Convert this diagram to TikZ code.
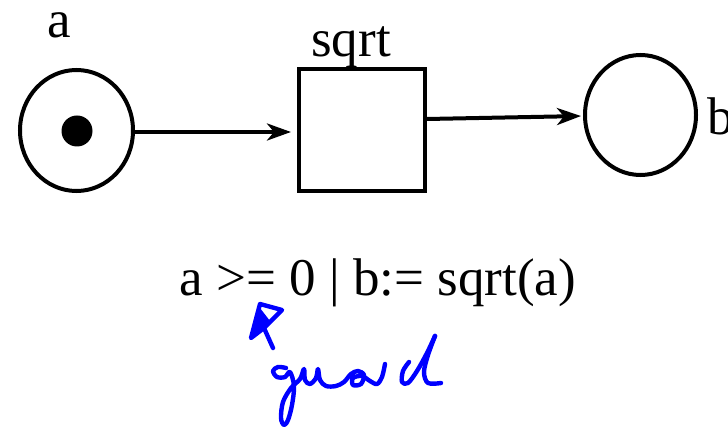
\documentclass[tikz,border=0pt]{standalone}
\usepackage{fontspec}
\setmainfont{Liberation Serif}
\usetikzlibrary{arrows.meta,shapes.geometric,calc}
\begin{document}
\begin{tikzpicture}[x=1pt,y=-1pt,
  place/.style={draw,ellipse,line width=4pt,inner sep=0pt},
  trans/.style={draw,rectangle,line width=4pt,inner sep=0pt,minimum width=126pt,minimum height=122pt},
  arc/.style={line width=4pt,-{Stealth[length=24pt,width=17pt,inset=7pt]}},
  lbl/.style={inner sep=0pt,font=\fontsize{53}{60}\selectfont},
  hand/.style={draw=blue,line width=4.4pt,line cap=round,line join=round}]
\useasboundingbox (0,0) rectangle (728,430);
\node[place,minimum width=113pt,minimum height=121pt] (a) at (76.5,130.5) {};
\node[circle,fill=black,inner sep=0pt,minimum size=31pt] (tok) at (77,131) {};
\node[trans] (t) at (362,130) {};
\node[place,minimum width=111pt,minimum height=120pt] (b) at (640.5,115) {};
\node[lbl,anchor=base,text height=0.48em,text depth=0pt] (la) at (59,38) {a};
\node[lbl,anchor=base] (lt) at (351,57) {sqrt};
\node[lbl,anchor=base west] (lb) at (707,135) {b};
\node[lbl,anchor=base] (g) at (378,295) {a >= 0 | b:= sqrt(a)};
\draw[arc,shorten >=6pt] ($(a.east)+(0,1.5)$) -- ($(t.west)+(0,2)$);
\draw[arc,shorten >=2pt] ($(t.east)+(0,-11)$) -- ($(b.west)+(0,1)$);
% handwritten arrow
\draw[hand] (273,348) -- (264,328);
\draw[hand] (264,328) -- (282,310) -- (260,304) -- (251,338) -- cycle;
\fill[blue] (251,338) -- (260,308) -- (270,321) -- cycle;
% handwritten "guard"
\draw[hand] plot[smooth,tension=0.55] coordinates {(286,368) (278,367) (273,371) (277,377) (285,377) (290,372)
  (294,386) (292,405) (288,420) (284,425) (281,418) (283,402) (291,388) (300,379) (304,369)
  (305,380) (310,384) (316,378) (318,369) (320,380) (326,386) (336,386) (344,382)
  (351,374) (358,371) (364,375) (361,384) (353,385) (353,378) (362,376) (370,381) (377,384) (382,377) (385,364)};
\draw[hand] plot[smooth,tension=0.55] coordinates {(409,362) (403,371) (402,382) (408,383) (417,371) (427,353) (435,336)};
\draw[hand] plot[smooth,tension=0.55] coordinates {(435,336) (428,355) (424,372) (428,383) (441,383)};
\end{tikzpicture}
\end{document}
